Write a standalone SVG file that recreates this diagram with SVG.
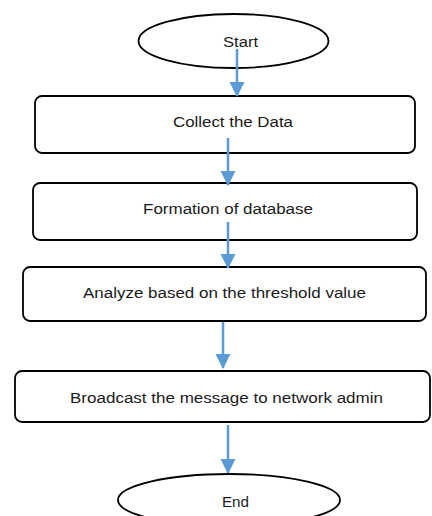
<svg xmlns="http://www.w3.org/2000/svg" width="432" height="516" viewBox="0 0 432 516">
<style>
.n{fill:#fff;stroke:#000;stroke-width:1.8}
.t{font-family:"Liberation Sans",Arial,sans-serif;font-size:15.5px;fill:#1a1a1a;text-anchor:middle}
.c{stroke:#5B9BD5;stroke-width:2.5;fill:none}
</style>
<defs>
<marker id="ah" markerUnits="userSpaceOnUse" markerWidth="16" markerHeight="16" refX="14" refY="7.5" orient="auto">
<path d="M0,0 L15,7.5 L0,15 Z" fill="#5B9BD5"/>
</marker>
</defs>
<rect width="432" height="516" fill="#fff"/>
<g id="start"><ellipse class="n" cx="233.5" cy="41" rx="95" ry="27"/><text class="t" x="240.5" y="47" textLength="35" lengthAdjust="spacingAndGlyphs">Start</text></g>
<g id="collect"><rect class="n" x="35" y="96" width="380" height="57" rx="7"/><text class="t" x="233" y="127" textLength="120" lengthAdjust="spacingAndGlyphs">Collect the Data</text></g>
<g id="formation"><rect class="n" x="33" y="183" width="384" height="57" rx="7"/><text class="t" x="228" y="214" textLength="170" lengthAdjust="spacingAndGlyphs">Formation of database</text></g>
<g id="analyze"><rect class="n" x="23" y="267" width="403" height="54" rx="7"/><text class="t" x="224.5" y="298" textLength="283" lengthAdjust="spacingAndGlyphs">Analyze based on the threshold value</text></g>
<g id="broadcast"><rect class="n" x="15" y="371" width="415" height="51" rx="7"/><text class="t" x="226.5" y="403" textLength="313" lengthAdjust="spacingAndGlyphs">Broadcast the message to network admin</text></g>
<g id="end"><ellipse class="n" cx="229" cy="500" rx="111" ry="26"/><text class="t" x="235.5" y="507" textLength="27" lengthAdjust="spacingAndGlyphs">End</text></g>
<g id="connectors">
<line class="c" x1="237" y1="49" x2="237" y2="96" marker-end="url(#ah)"/>
<line class="c" x1="228" y1="138" x2="228" y2="185" marker-end="url(#ah)"/>
<line class="c" x1="228" y1="222" x2="228" y2="268" marker-end="url(#ah)"/>
<line class="c" x1="223" y1="322" x2="223" y2="368" marker-end="url(#ah)"/>
<line class="c" x1="228" y1="425" x2="228" y2="473" marker-end="url(#ah)"/>
</g>
</svg>
